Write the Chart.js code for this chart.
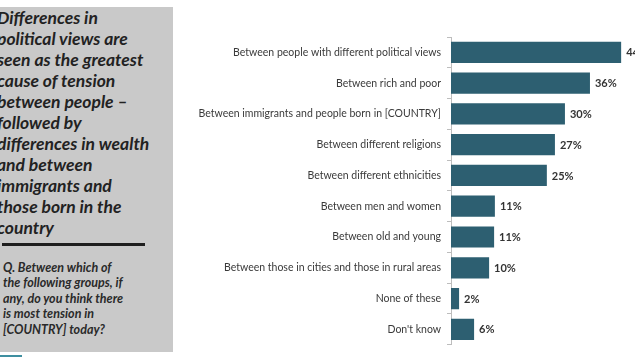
<!DOCTYPE html>
<html>
<head>
<meta charset="utf-8">
<script src="https://cdn.jsdelivr.net/npm/chart.js@4/dist/chart.umd.min.js"></script>
<style>
  html, body { margin: 0; padding: 0; background: #ffffff; }
  #page { position: relative; width: 635px; height: 357px; overflow: hidden; background: #ffffff; }
  #panel { position: absolute; left: 0; top: 7px; width: 173px; height: 345px; background: #c9c9c9; overflow: hidden; }
  #headline { position: absolute; left: -3px; top: 0px; font-family: Lato, sans-serif; font-weight: 700; font-style: italic;
              font-size: 17.5px; line-height: 21px; color: #222222; white-space: nowrap; }
  #rule { position: absolute; left: 2px; top: 236px; width: 143px; height: 3px; background: #1e1e1e; }
  #question { position: absolute; left: 3px; top: 253px; font-family: Lato, sans-serif; font-weight: 700; font-style: italic;
              font-size: 12.5px; line-height: 15.4px; color: #2a2a2a; white-space: nowrap; }
  #strip { position: absolute; left: 0; top: 355px; width: 22px; height: 2px; background: #3f8fa0; }
  #chart { position: absolute; left: 180px; top: 0; }
</style>
</head>
<body>
<div id="page">
  <div id="panel">
    <div id="headline">Differences in<br>political views are<br>seen as the greatest<br>cause of tension<br>between people –<br>followed by<br>differences in wealth<br>and between<br>immigrants and<br>those born in the<br>country</div>
    <div id="rule"></div>
    <div id="question">Q. Between which of<br>the following groups, if<br>any, do you think there<br>is most tension in<br>[COUNTRY] today?</div>
  </div>
  <div id="strip"></div>
  <canvas id="chart" width="455" height="357"></canvas>
</div>
<script>
const categories = [
  "Between people with different political views",
  "Between rich and poor",
  "Between immigrants and people born in [COUNTRY]",
  "Between different religions",
  "Between different ethnicities",
  "Between men and women",
  "Between old and young",
  "Between those in cities and those in rural areas",
  "None of these",
  "Don't know"
];
const values = [44.2, 36.1, 29.6, 27.0, 24.9, 11.4, 11.2, 9.9, 2.1, 6.0];
const valueLabels = ["44%", "36%", "30%", "27%", "25%", "11%", "11%", "10%", "2%", "6%"];

const valueLabelPlugin = {
  id: 'valueLabels',
  afterDatasetsDraw(chart) {
    const ctx = chart.ctx;
    const meta = chart.getDatasetMeta(0);
    ctx.save();
    ctx.font = '700 11px Lato, sans-serif';
    ctx.fillStyle = '#333333';
    ctx.textAlign = 'left';
    ctx.textBaseline = 'middle';
    meta.data.forEach((bar, i) => {
      ctx.fillText(valueLabels[i], bar.x + 5, bar.y + 0.5);
    });
    ctx.restore();
  }
};

new Chart(document.getElementById('chart'), {
  type: 'bar',
  data: {
    labels: categories,
    datasets: [{
      data: values,
      backgroundColor: '#2d5f71',
      borderWidth: 0,
      barPercentage: 0.69,
      categoryPercentage: 1.0
    }]
  },
  options: {
    indexAxis: 'y',
    responsive: false,
    animation: false,
    layout: { padding: { top: 37, bottom: 12, left: 0, right: 0 } },
    plugins: { legend: { display: false }, tooltip: { enabled: false } },
    scales: {
      x: { display: false, min: 0, max: 47.8 },
      y: {
        afterFit(scale) { scale.width = 271; },
        border: { display: true, color: '#bdbdbd', width: 1 },
        grid: { drawOnChartArea: false, drawTicks: true, tickLength: 4, color: '#bdbdbd', offset: true },
        ticks: { color: '#3a3a3a', padding: 6, font: { family: 'Lato, sans-serif', size: 10.5 } }
      }
    }
  },
  plugins: [valueLabelPlugin]
});
</script>
</body>
</html>
